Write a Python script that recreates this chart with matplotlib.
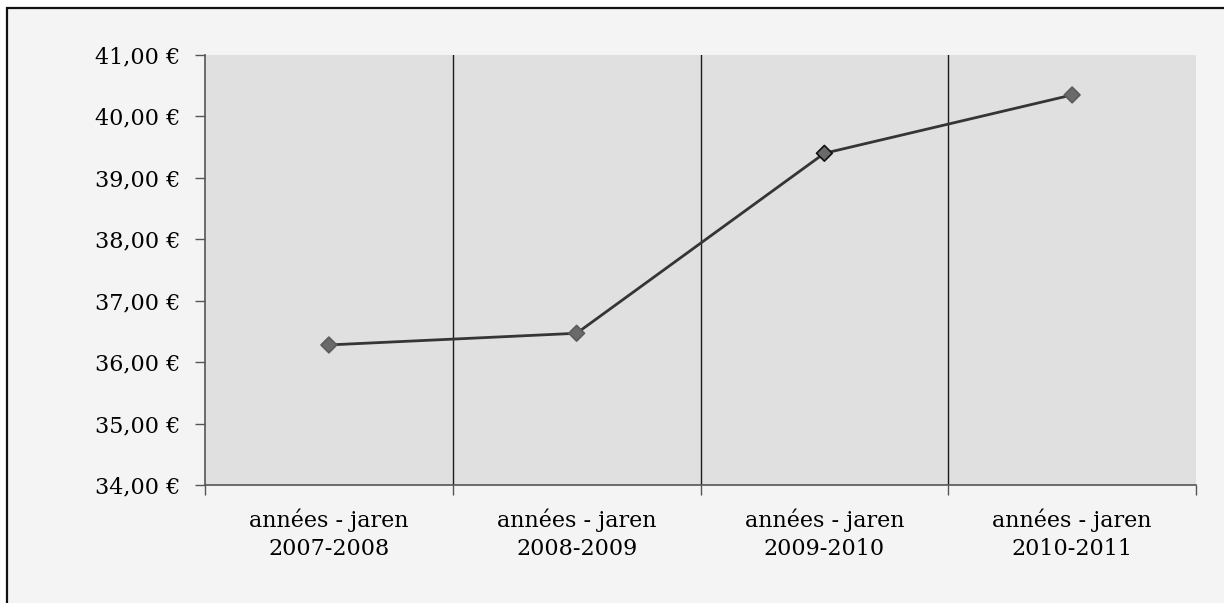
import matplotlib.pyplot as plt
from matplotlib.patches import Rectangle
from matplotlib.ticker import FuncFormatter

# valeurs
categories = ['années - jaren\n2007-2008', 'années - jaren\n2008-2009',
              'années - jaren\n2009-2010', 'années - jaren\n2010-2011']
valeurs = [36.28, 36.47, 39.40, 40.35]
bords_marqueurs = ['#5c5c5c', '#5c5c5c', '#111111', '#5c5c5c']
y_min, y_max = 34, 41

plt.rcParams['font.family'] = ['DejaVu Serif']

fig = plt.figure(figsize=(12.24, 6.03), dpi=100, facecolor='white')

# cadre du graphique (coupé à droite et en bas)
fig.patches.append(Rectangle((6.5 / 1224, -0.05), 1.1, 1.05 - 7.5 / 603,
                             transform=fig.transFigure, facecolor='#f4f4f4',
                             edgecolor='#111111', linewidth=1.6, zorder=-10))

ax = fig.add_axes([205 / 1224, 118 / 603, 991 / 1224, 430 / 603])
ax.set_facecolor('#e0e0e0')

x = list(range(len(categories)))
ax.plot(x, valeurs, color='#353535', linewidth=2, zorder=3)
ax.scatter(x, valeurs, marker='D', s=64, facecolor='#6a6a6a',
           edgecolors=bords_marqueurs, linewidths=1.2, zorder=4)

ax.set_xlim(-0.5, len(categories) - 0.5)
ax.set_ylim(y_min, y_max)

# séparateurs verticaux entre les catégories
for b in [i + 0.5 for i in range(len(categories) - 1)]:
    ax.axvline(b, color='#1a1a1a', linewidth=1, zorder=2)

ax.set_xticks(x)
ax.set_xticklabels(categories, fontsize=16, linespacing=1.35)
ax.set_xticks([i - 0.5 for i in range(len(categories) + 1)], minor=True)
ax.tick_params(axis='x', which='major', length=0, pad=17)
ax.tick_params(axis='x', which='minor', length=7, color='#555555', width=1)

ax.set_yticks(range(y_min, y_max + 1))
ax.yaxis.set_major_formatter(FuncFormatter(lambda v, p: f'{v:.2f}'.replace('.', ',') + ' €'))
ax.tick_params(axis='y', length=7.5, color='#555555', width=1, labelsize=16, pad=10)

for s in ['top', 'right']:
    ax.spines[s].set_visible(False)
for s in ['left', 'bottom']:
    ax.spines[s].set_color('#555555')
    ax.spines[s].set_linewidth(1.2)

fig.savefig('out.png', dpi=100)
